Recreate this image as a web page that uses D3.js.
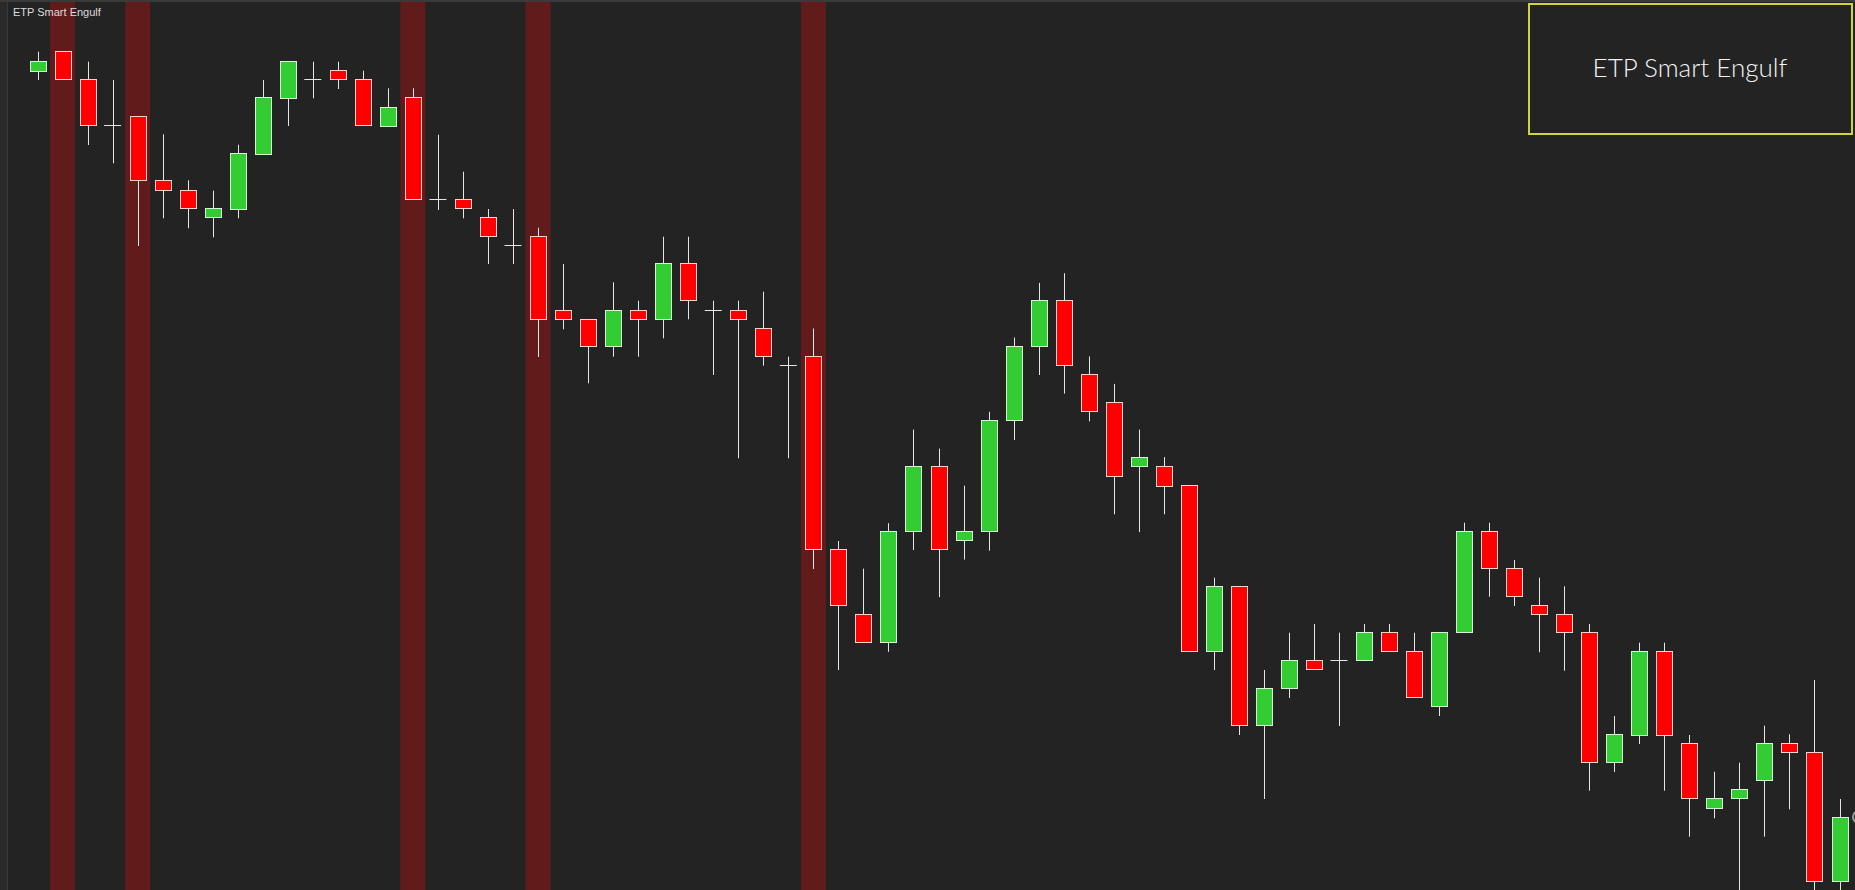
<!DOCTYPE html>
<html>
<head>
<meta charset="utf-8">
<script src="https://cdn.jsdelivr.net/npm/d3@7/dist/d3.min.js"></script>
<style>
  html, body { margin: 0; padding: 0; background: #222; overflow: hidden; }
  svg { display: block; }
</style>
</head>
<body>
<div id="chart"></div>
<script>
(function() {
  // data
  var open = [1.19293,1.19490,1.19207,1.18747,1.18837,1.18197,1.18097,1.17827,1.17913,1.18463,
              1.19023,1.19207,1.19300,1.19207,1.18743,1.19027,1.18007,1.18007,1.17827,1.17547,
              1.17637,1.16897,1.16807,1.16537,1.16900,1.16807,1.17367,1.16900,1.16900,1.16717,
              1.16347,1.16440,1.14507,1.13857,1.13579,1.14686,1.15339,1.14596,1.14686,1.15796,
              1.16536,1.17000,1.16261,1.15979,1.15336,1.15339,1.15146,1.13483,1.14137,1.12743,
              1.13113,1.13397,1.13397,1.13393,1.13677,1.13487,1.12933,1.13677,1.14687,1.14317,
              1.13947,1.13857,1.13677,1.12373,1.12650,1.13487,1.12567,1.11913,1.12013,1.12193,
              1.12567,1.12477,1.11190];
  var high = [1.19483,1.19490,1.19383,1.19200,1.18837,1.18657,1.18197,1.18093,1.18553,1.19200,
              1.19390,1.19383,1.19383,1.19293,1.19117,1.19117,1.18653,1.18283,1.17910,1.17910,
              1.17723,1.17360,1.16807,1.17177,1.16993,1.17633,1.17633,1.16993,1.16993,1.17083,
              1.16433,1.16715,1.14590,1.14314,1.14768,1.15704,1.15514,1.15143,1.15882,1.16625,
              1.17171,1.17268,1.16436,1.16161,1.15704,1.15429,1.15146,1.14223,1.14137,1.13300,
              1.13673,1.13760,1.13673,1.13760,1.13760,1.13673,1.13677,1.14773,1.14773,1.14400,
              1.14223,1.14137,1.13760,1.12840,1.13573,1.13573,1.12650,1.12283,1.12373,1.12743,
              1.12657,1.13200,1.12010];
  var low  = [1.19200,1.19207,1.18550,1.18367,1.17540,1.17817,1.17717,1.17627,1.17817,1.18463,
              1.18740,1.19017,1.19110,1.18743,1.18743,1.18007,1.17900,1.17817,1.17360,1.17360,
              1.16430,1.16707,1.16167,1.16433,1.16433,1.16617,1.16807,1.16250,1.15417,1.16343,
              1.15417,1.14310,1.13300,1.13579,1.13482,1.14500,1.14029,1.14404,1.14493,1.15600,
              1.16250,1.16064,1.15786,1.14857,1.14679,1.14857,1.13482,1.13300,1.12650,1.12010,
              1.13020,1.13303,1.12740,1.13393,1.13483,1.13023,1.12840,1.13677,1.14033,1.13940,
              1.13477,1.13293,1.12093,1.12280,1.12560,1.12093,1.11633,1.11817,1.10950,1.11633,
              1.11907,1.10900,1.10900];
  var close = [1.19390,1.19207,1.18743,1.18747,1.18193,1.18093,1.17913,1.17917,1.18470,1.19030,
               1.19390,1.19207,1.19207,1.18743,1.18930,1.18007,1.18007,1.17913,1.17633,1.17547,
               1.16807,1.16807,1.16537,1.16900,1.16807,1.17367,1.16993,1.16900,1.16807,1.16433,
               1.16347,1.14507,1.13945,1.13579,1.14686,1.15339,1.14507,1.14686,1.15796,1.16536,
               1.17000,1.16346,1.15886,1.15236,1.15429,1.15143,1.13482,1.14137,1.12743,1.13117,
               1.13397,1.13303,1.13397,1.13677,1.13483,1.13023,1.13677,1.14687,1.14317,1.14033,
               1.13853,1.13673,1.12373,1.12657,1.13487,1.12650,1.12013,1.12017,1.12107,1.12567,
               1.12473,1.11190,1.11830];
  // bars flagged by the indicator
  var engulf = [1, 4, 15, 20, 31];
  var title = 'ETP Smart Engulf';

  var W = 1855, H = 890,
      bodyW = 16;

  var bars = open.map(function(o, i) {
    return { i: i, o: o, h: high[i], l: low[i], c: close[i] };
  });

  var x = d3.scaleLinear().domain([0, bars.length - 1]).range([37.5, 1839.5]);
  var y = d3.scaleLinear().domain([1.2, 1.111]).range([0, H]);
  var step = x(1) - x(0);

  var svg = d3.select('#chart').append('svg')
    .attr('width', W)
    .attr('height', H);

  svg.append('rect')
    .attr('width', W).attr('height', H)
    .attr('fill', '#232323');

  // frame on the left and top
  svg.append('rect')
    .attr('x', 0).attr('y', 0).attr('width', 7).attr('height', H)
    .attr('fill', '#2a2a2a');
  svg.append('line')
    .attr('x1', 7.5).attr('x2', 7.5).attr('y1', 0).attr('y2', H)
    .attr('stroke', '#3a3a3a');
  svg.append('rect')
    .attr('x', 0).attr('y', 0).attr('width', W).attr('height', 2)
    .attr('fill', '#3a3a3a');

  // engulf highlight columns
  svg.append('g').selectAll('rect')
    .data(engulf)
    .join('rect')
      .attr('x', function(d) { return x(d) - step / 2; })
      .attr('y', 2)
      .attr('width', step)
      .attr('height', H)
      .attr('fill', '#621b1b');

  // wicks
  svg.append('g').selectAll('line')
    .data(bars)
    .join('line')
      .attr('x1', function(d) { return Math.round(x(d.i)) + 0.5; })
      .attr('x2', function(d) { return Math.round(x(d.i)) + 0.5; })
      .attr('y1', function(d) { return y(d.h); })
      .attr('y2', function(d) { return y(d.l); })
      .attr('stroke', '#e6e6e6')
      .attr('stroke-width', 1);

  // bodies
  var body = bars.filter(function(d) { return Math.abs(y(d.o) - y(d.c)) > 1; });
  svg.append('g').selectAll('rect')
    .data(body)
    .join('rect')
      .attr('x', function(d) { return Math.round(x(d.i) - bodyW / 2) + 0.5; })
      .attr('y', function(d) { return Math.round(y(Math.max(d.o, d.c))) + 0.5; })
      .attr('width', bodyW)
      .attr('height', function(d) { return Math.round(Math.abs(y(d.o) - y(d.c))); })
      .attr('fill', function(d) { return d.c > d.o ? '#33cc33' : '#ff0000'; })
      .attr('stroke', function(d) { return d.c > d.o ? '#d6f5d6' : '#ffd0d0'; })
      .attr('stroke-width', 1);

  // doji ticks
  var doji = bars.filter(function(d) { return Math.abs(y(d.o) - y(d.c)) <= 1; });
  svg.append('g').selectAll('line')
    .data(doji)
    .join('line')
      .attr('x1', function(d) { return x(d.i) - 8.5; })
      .attr('x2', function(d) { return x(d.i) + 8.5; })
      .attr('y1', function(d) { return Math.round(y(d.o)) + 0.5; })
      .attr('y2', function(d) { return Math.round(y(d.o)) + 0.5; })
      .attr('stroke', '#e6e6e6');

  // small marker at the right edge
  svg.append('circle')
    .attr('cx', 1859).attr('cy', 817).attr('r', 6)
    .attr('fill', 'none')
    .attr('stroke', '#9a9a9a')
    .attr('stroke-width', 2);

  // title top-left
  svg.append('text')
    .attr('x', 13).attr('y', 16)
    .attr('fill', '#dcdcdc')
    .attr('font-family', 'Liberation Sans, Arial, sans-serif')
    .attr('font-size', 11)
    .text(title);

  // label box
  var box = svg.append('g');
  box.append('rect')
    .attr('x', 1529).attr('y', 4)
    .attr('width', 323).attr('height', 130)
    .attr('fill', '#232323')
    .attr('stroke', '#d2d23c')
    .attr('stroke-width', 2);
  box.append('text')
    .attr('x', 1690).attr('y', 77)
    .attr('text-anchor', 'middle')
    .attr('fill', '#f2f2f2')
    .attr('font-family', 'Lato, Open Sans, sans-serif')
    .attr('font-weight', 300)
    .attr('font-size', 26)
    .text(title);
})();
</script>
</body>
</html>
